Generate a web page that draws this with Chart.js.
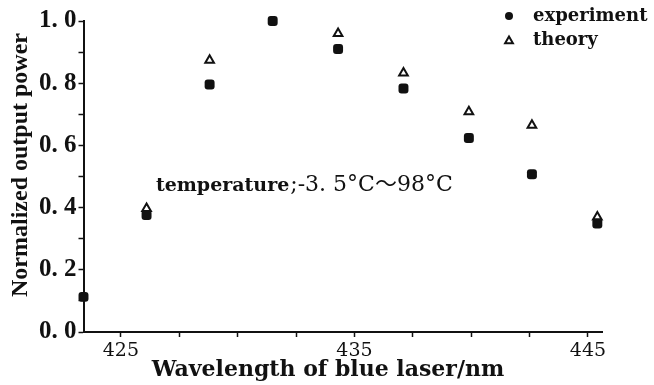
<!DOCTYPE html>
<html>
<head>
<meta charset="utf-8">
<script src="https://cdn.jsdelivr.net/npm/chart.js@4/dist/chart.umd.min.js"></script>
<style>
  html, body { margin: 0; padding: 0; background: #fff; }
  #wrap { width: 654px; height: 385px; }
</style>
</head>
<body>
<div id="wrap"><canvas id="c" width="654" height="385"></canvas></div>
<script>
// ---- data ----
const wavelengths = [423.4, 426.1, 428.8, 431.5, 434.3, 437.1, 439.9, 442.6, 445.4];
const experiment  = [0.113, 0.376, 0.796, 1.000, 0.910, 0.783, 0.624, 0.507, 0.349];
const theory      = [null,  0.397, 0.874, null,  0.960, 0.833, 0.708, 0.665, 0.370];
const xTickValues = [425, 427.5, 430, 432.5, 435, 437.5, 440, 442.5, 445];
const xTickLabels = { 425: "425", 435: "435", 445: "445" };
const yTickValues = [0, 0.1, 0.2, 0.3, 0.4, 0.5, 0.6, 0.7, 0.8, 0.9, 1.0];
const yTickLabels = { 0: "0. 0", 0.2: "0. 2", 0.4: "0. 4", 0.6: "0. 6", 0.8: "0. 8", 1: "1. 0" };
const xTitle = 'Wavelength of blue laser/nm';
const yTitle = 'Normalized output power';
const annotationLabel = "temperature";
const annotationRange = ";-3. 5°C\uFF5E98°C";
const annotationAt = { x: 426.5, y: 0.453 };

const toPts = (ys) => wavelengths.map((x, i) => ({ x, y: ys[i] })).filter(p => p.y !== null);

const overlay = {
  id: 'overlay',
  afterDraw(chart) {
    const ctx = chart.ctx;
    const xs = chart.scales.x, ys = chart.scales.y;
    ctx.save();
    ctx.fillStyle = '#111';

    // axis titles
    ctx.textAlign = 'center';
    ctx.textBaseline = 'middle';
    ctx.font = 'bold 22px "DejaVu Serif"';
    ctx.fillText(xTitle, 328, 370);
    ctx.save();
    ctx.translate(21, 165);
    ctx.rotate(-Math.PI / 2);
    ctx.font = 'bold 24px "Liberation Serif"';
    ctx.fillText(yTitle, 0, 0);
    ctx.restore();

    // annotation text
    const ax = xs.getPixelForValue(annotationAt.x);
    const ay = ys.getPixelForValue(annotationAt.y);
    ctx.textBaseline = 'alphabetic';
    ctx.textAlign = 'left';
    ctx.font = 'bold 19px "DejaVu Serif"';
    ctx.fillText(annotationLabel, ax, ay);
    const w1 = ctx.measureText(annotationLabel).width;
    ctx.font = '22px "DejaVu Serif", "Noto Sans CJK SC"';
    ctx.fillText(annotationRange, ax + w1 + 1, ay);

    // legend
    const lx = 509, ly1 = 16, ly2 = 40;
    ctx.beginPath();
    ctx.arc(lx, ly1, 4, 0, Math.PI * 2);
    ctx.fill();
    ctx.strokeStyle = '#111';
    ctx.lineWidth = 2;
    ctx.fillStyle = '#fff';
    ctx.beginPath();
    const r = 4.5;
    for (let k = 0; k < 3; k++) {
      const a = -Math.PI / 2 + k * 2 * Math.PI / 3;
      const px = lx + Math.cos(a) * r, py = ly2 + 1 + Math.sin(a) * r;
      if (k === 0) ctx.moveTo(px, py); else ctx.lineTo(px, py);
    }
    ctx.closePath();
    ctx.fill();
    ctx.stroke();
    ctx.fillStyle = '#111';
    ctx.font = 'bold 18px "DejaVu Serif"';
    ctx.textBaseline = 'middle';
    ctx.fillText(chart.data.datasets[0].label, 533, ly1);
    ctx.fillText(chart.data.datasets[1].label, 533, ly2);
    ctx.restore();
  }
};

new Chart(document.getElementById('c'), {
  type: 'scatter',
  data: {
    datasets: [
      {
        label: 'experiment',
        data: toPts(experiment),
        pointStyle: 'rectRounded',
        pointRadius: 5.8,
        backgroundColor: '#111',
        borderColor: '#111',
        borderWidth: 0,
        clip: false
      },
      {
        label: 'theory',
        data: toPts(theory),
        pointStyle: 'triangle',
        pointRadius: 5,
        backgroundColor: '#fff',
        borderColor: '#111',
        borderWidth: 2,
        clip: false
      }
    ]
  },
  options: {
    responsive: false,
    animation: false,
    events: [],
    layout: { padding: { top: 21, right: 52, left: 0, bottom: 0 } },
    plugins: { legend: { display: false }, tooltip: { enabled: false } },
    scales: {
      x: {
        type: 'linear',
        min: 423.4,
        max: 445.6,
        afterBuildTicks(s) { s.ticks = xTickValues.map(v => ({ value: v })); },
        afterFit(s) { s.height = 53; },
        border: { display: true, color: '#111', width: 2 },
        grid: { display: true, drawOnChartArea: false, drawTicks: true, tickLength: 5, color: '#111', tickWidth: 1.5 },
        ticks: {
          autoSkip: false,
          maxRotation: 0,
          padding: 3,
          color: '#111',
          font: { family: '"DejaVu Serif"', size: 19 },
          callback: (v) => xTickLabels[v] || ''
        },
        title: { display: false }
      },
      y: {
        type: 'linear',
        min: 0,
        max: 1,
        afterBuildTicks(s) { s.ticks = yTickValues.map(v => ({ value: v })); },
        afterFit(s) { s.width = 83.5; },
        border: { display: true, color: '#111', width: 2 },
        grid: { display: true, drawOnChartArea: false, drawTicks: true, tickLength: 5, color: '#111', tickWidth: 1.5 },
        ticks: {
          autoSkip: false,
          padding: 2,
          color: '#111',
          font: { family: '"Liberation Serif"', size: 25, weight: 'bold' },
          callback: (v) => yTickLabels[Math.round(v * 10) / 10] || ''
        },
        title: { display: false }
      }
    }
  },
  plugins: [overlay]
});
</script>
</body>
</html>
